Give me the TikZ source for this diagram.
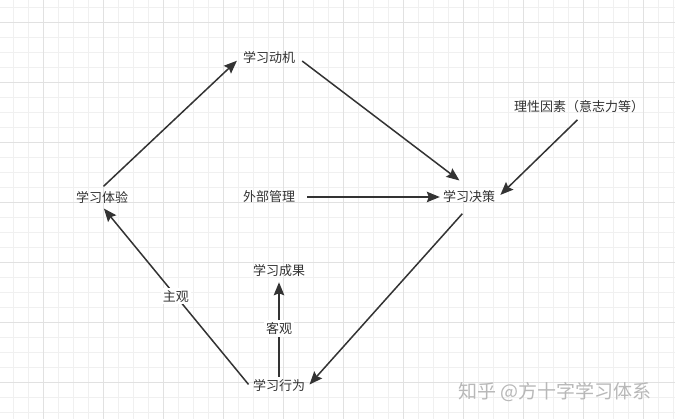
\documentclass[tikz,border=0pt]{standalone}
\usepackage{fontspec}
\newfontfamily\cjk{Noto Sans CJK SC}
\usepackage{tikz}
\usetikzlibrary{arrows.meta}
\usetikzlibrary{calc}
\definecolor{LineColor}{RGB}{51,51,51}
\definecolor{GridMinor}{RGB}{240,240,240}
\definecolor{GridMajor}{RGB}{225,225,225}
\tikzstyle{arrow} = [line width=1.5pt, LineColor, -{Stealth[length=13pt,width=10.5pt,inset=2pt]}]
\tikzstyle{box} = [inner sep=3pt, text=LineColor, font=\cjk\fontsize{13}{15}\selectfont]
\tikzstyle{tag} = [fill=white, inner sep=2pt, text=LineColor, font=\cjk\fontsize{13}{15}\selectfont]
\tikzstyle{watermark} = [text=black!28, font=\cjk\fontsize{19}{22}\selectfont]

\begin{document}
\begin{tikzpicture}[x=1pt, y=-1pt]

                \useasboundingbox (0,0) rectangle (675,419);
                \fill[white] (0,0) rectangle (675,419);

                \foreach \gx in {13.3,28.3,...,674} {
                    \draw[GridMinor, line width=0.8pt] (\gx,0) -- (\gx,419);
                }
                \foreach \gy in {7.3,22.3,...,419} {
                    \draw[GridMinor, line width=0.8pt] (0,\gy) -- (675,\gy);
                }
                \foreach \gx in {43.3,103.3,...,674} {
                    \draw[GridMajor, line width=0.8pt] (\gx,0) -- (\gx,419);
                }
                \foreach \gy in {22.3,82.3,...,419} {
                    \draw[GridMajor, line width=0.8pt] (0,\gy) -- (675,\gy);
                }

                \node[box] (dongji) at (269,58) {学习动机};
                \node[box] (lixing) at (579,107) {理性因素（意志力等）};
                \node[box] (tiyan) at (102,197) {学习体验};
                \node[box] (waibu) at (269,197) {外部管理};
                \node[box] (juece) at (469,197) {学习决策};
                \node[box] (chengguo) at (279,271) {学习成果};
                \node[box] (xingwei) at (279,386) {学习行为};

                \draw[arrow, shorten <=2pt, shorten >=4pt] (tiyan.north) -- (dongji.west);
                \draw[arrow, shorten <=5pt, shorten >=12pt] (dongji.east) -- (juece.north);
                \draw[arrow, shorten <=9pt] (waibu.east) -- (juece.west);
                \draw[arrow, shorten <=5pt, shorten >=3pt] ($(lixing.south)+(2,0)$) -- (juece.east);
                \draw[arrow, shorten <=10pt, shorten >=2pt] (juece.south) -- (xingwei.east);
                \draw[arrow, shorten <=2pt, shorten >=3pt] (xingwei.west) -- (tiyan.south)
                    node[tag, pos=0.5] {主观};
                \draw[arrow, shorten >=2pt] (xingwei.north) -- (chengguo.south)
                    node[tag, pos=0.5] {客观};

                \node[watermark] (zhihu) at (555,392) {知乎 @方十字学习体系};
\end{tikzpicture}
\end{document}
